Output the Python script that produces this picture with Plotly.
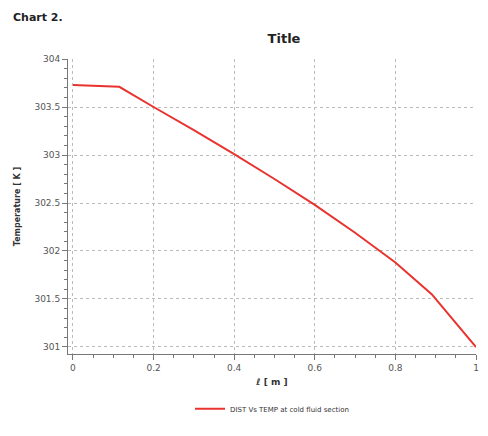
import plotly.graph_objects as go

dist = [0.0, 0.115, 0.2, 0.3, 0.4, 0.5, 0.6, 0.7, 0.8, 0.89, 1.0]
temp = [303.73, 303.71, 303.5, 303.26, 303.01, 302.75, 302.48, 302.19, 301.88, 301.55, 301.0]
series_name = "DIST Vs TEMP at cold fluid section"

fig = go.Figure()
fig.add_trace(go.Scatter(x=dist, y=temp, mode="lines", name=series_name,
                         line=dict(color="#e8332f", width=2)))

fnt = "DejaVu Sans, Verdana, sans-serif"
fig.update_layout(
    width=488, height=436,
    margin=dict(l=68, r=9, t=59, b=82),
    paper_bgcolor="white", plot_bgcolor="white",
    font=dict(family=fnt, size=9, color="#555"),
    title=dict(text="<b>Title</b>", x=0.582, xanchor="center", y=1 - 38/436, yanchor="middle",
               font=dict(size=13, color="#222")),
    showlegend=True,
    legend=dict(orientation="h", x=0.5, xanchor="center", y=-0.186, yanchor="middle",
                font=dict(size=7, color="#333"), bgcolor="rgba(0,0,0,0)"),
    annotations=[dict(text="<b>Chart 2.</b>", xref="paper", yref="paper",
                      x=(11-68)/411, y=1 + (59-17)/295, xanchor="left", yanchor="middle",
                      showarrow=False, font=dict(size=11, color="#222"))],
)
fig.update_xaxes(
    range=[-0.0123, 1.0], tickvals=[0, 0.2, 0.4, 0.6, 0.8, 1],
    ticktext=["0", "0.2", "0.4", "0.6", "0.8", "1"],
    showgrid=True, gridcolor="#bbbbbb", griddash="dot", gridwidth=1,
    zeroline=False, showline=True, linecolor="#777", linewidth=1,
    ticks="outside", ticklen=5, tickcolor="#777",
    minor=dict(dtick=0.05, tick0=0, ticks="outside", ticklen=3, tickcolor="#777", showgrid=False),
    tickfont=dict(size=9, color="#555"),
    title=dict(text="<b><i>ℓ</i> [ m ]</b>", font=dict(size=9, color="#333"), standoff=6),
)
fig.update_yaxes(
    range=[300.927, 304.0], tickvals=[301, 301.5, 302, 302.5, 303, 303.5, 304],
    ticktext=["301", "301.5", "302", "302.5", "303", "303.5", "304"],
    showgrid=True, gridcolor="#bbbbbb", griddash="dot", gridwidth=1,
    zeroline=False, showline=True, linecolor="#777", linewidth=1,
    ticks="outside", ticklen=5, tickcolor="#777",
    minor=dict(dtick=0.1, tick0=301, ticks="outside", ticklen=3, tickcolor="#777", showgrid=False),
    tickfont=dict(size=9, color="#555"),
    title=dict(text="<b>Temperature [ K ]</b>", font=dict(size=8, color="#333"), standoff=12),
)

fig.write_html("out.html")
